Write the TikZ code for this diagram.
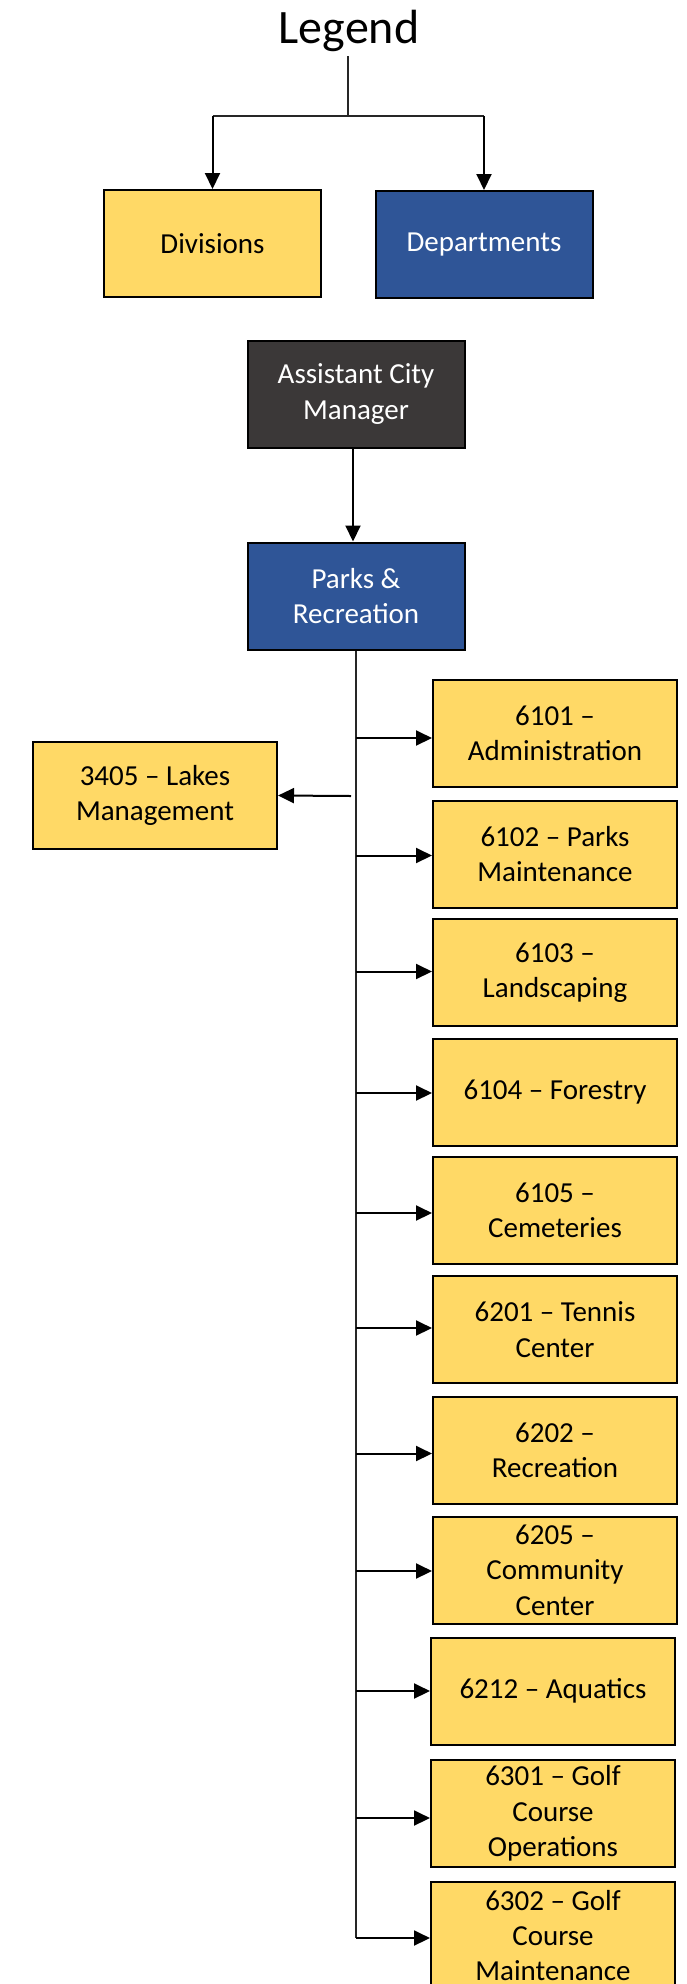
\documentclass[tikz,border=0pt]{standalone}
\usepackage{fontspec}
\setmainfont{Carlito}
\usetikzlibrary{arrows.meta}
\definecolor{gold}{HTML}{FFD966}
\definecolor{dblue}{HTML}{2F5597}
\definecolor{dgray}{HTML}{3B3838}
\begin{document}
\begin{tikzpicture}[x=1pt,y=-1pt,
  box/.style={draw=black, line width=2pt, inner sep=0pt, align=center,
    font=\fontsize{29}{35.4}\selectfont, minimum height=107pt},
  divbox/.style={box, fill=gold, text=black},
  deptbox/.style={box, fill=dblue, text=white},
  mgrbox/.style={box, fill=dgray, text=white},
  arr/.style={line width=2pt, -{Triangle[length=16pt,width=15pt]}},
  thinline/.style={line width=1.2pt, draw=black!85}]
\useasboundingbox (0,0) rectangle (687,1984);

% legend
\node[font=\fontsize{48}{58}\selectfont, anchor=base, inner sep=0pt] (legend) at (349,43) {Legend};
\node[divbox, minimum width=217pt] (div) at (212.5,243.5) {Divisions};
\node[deptbox, minimum width=217pt] (dep) at (484,244.5) {Departments};
\coordinate (lt) at (348,56);
\coordinate (lj) at (348,116);
\draw[thinline] (lt) -- (lj);
\draw[thinline] (div.north |- lj) -- (dep.north |- lj);
\draw[arr] (div.north |- lj) -- (div.north);
\draw[arr] (dep.north |- lj) -- (dep.north);

% hierarchy
\node[mgrbox, minimum width=217pt] (acm) at (356,394) {Assistant City\\Manager};
\node[deptbox, minimum width=217pt] (parks) at (356,596) {Parks \&\\Recreation};
\draw[arr] ([xshift=-3pt]acm.south) -- ([xshift=-3pt]parks.north);

\coordinate (tend) at (356,1938);
\draw[thinline] (parks.south) -- (tend);

% left division
\node[divbox, minimum width=244pt] (lakes) at (155,795.5) {3405 – Lakes\\Management};
\coordinate (lk) at (351,796);
\draw[arr] (lk) -- (lakes.east);

% right divisions
\foreach \bx/\by/\ay/\t [count=\i] in {
  555/733.5/738/{6101 –\\Administration},
  555/854/855.5/{6102 – Parks\\Maintenance},
  555/972.5/971.5/{6103 –\\Landscaping},
  555/1092/1093/{6104 – Forestry},
  555/1210.5/1213/{6105 –\\Cemeteries},
  555/1329.5/1328/{6201 – Tennis\\Center},
  555/1450/1453.5/{6202 –\\Recreation},
  555/1570/1571/{6205 –\\Community\\Center},
  553/1691/1691/{6212 – Aquatics},
  553/1813.5/1818/{6301 – Golf\\Course\\Operations},
  553/1935.5/1938/{6302 – Golf\\Course\\Maintenance}}{
  \node[divbox, minimum width=244pt] (r\i) at (\bx,\by) {\t};
  \coordinate (t\i) at (356,\ay);
  \draw[arr] (t\i) -- (t\i -| r\i.west);
}
\end{tikzpicture}
\end{document}
